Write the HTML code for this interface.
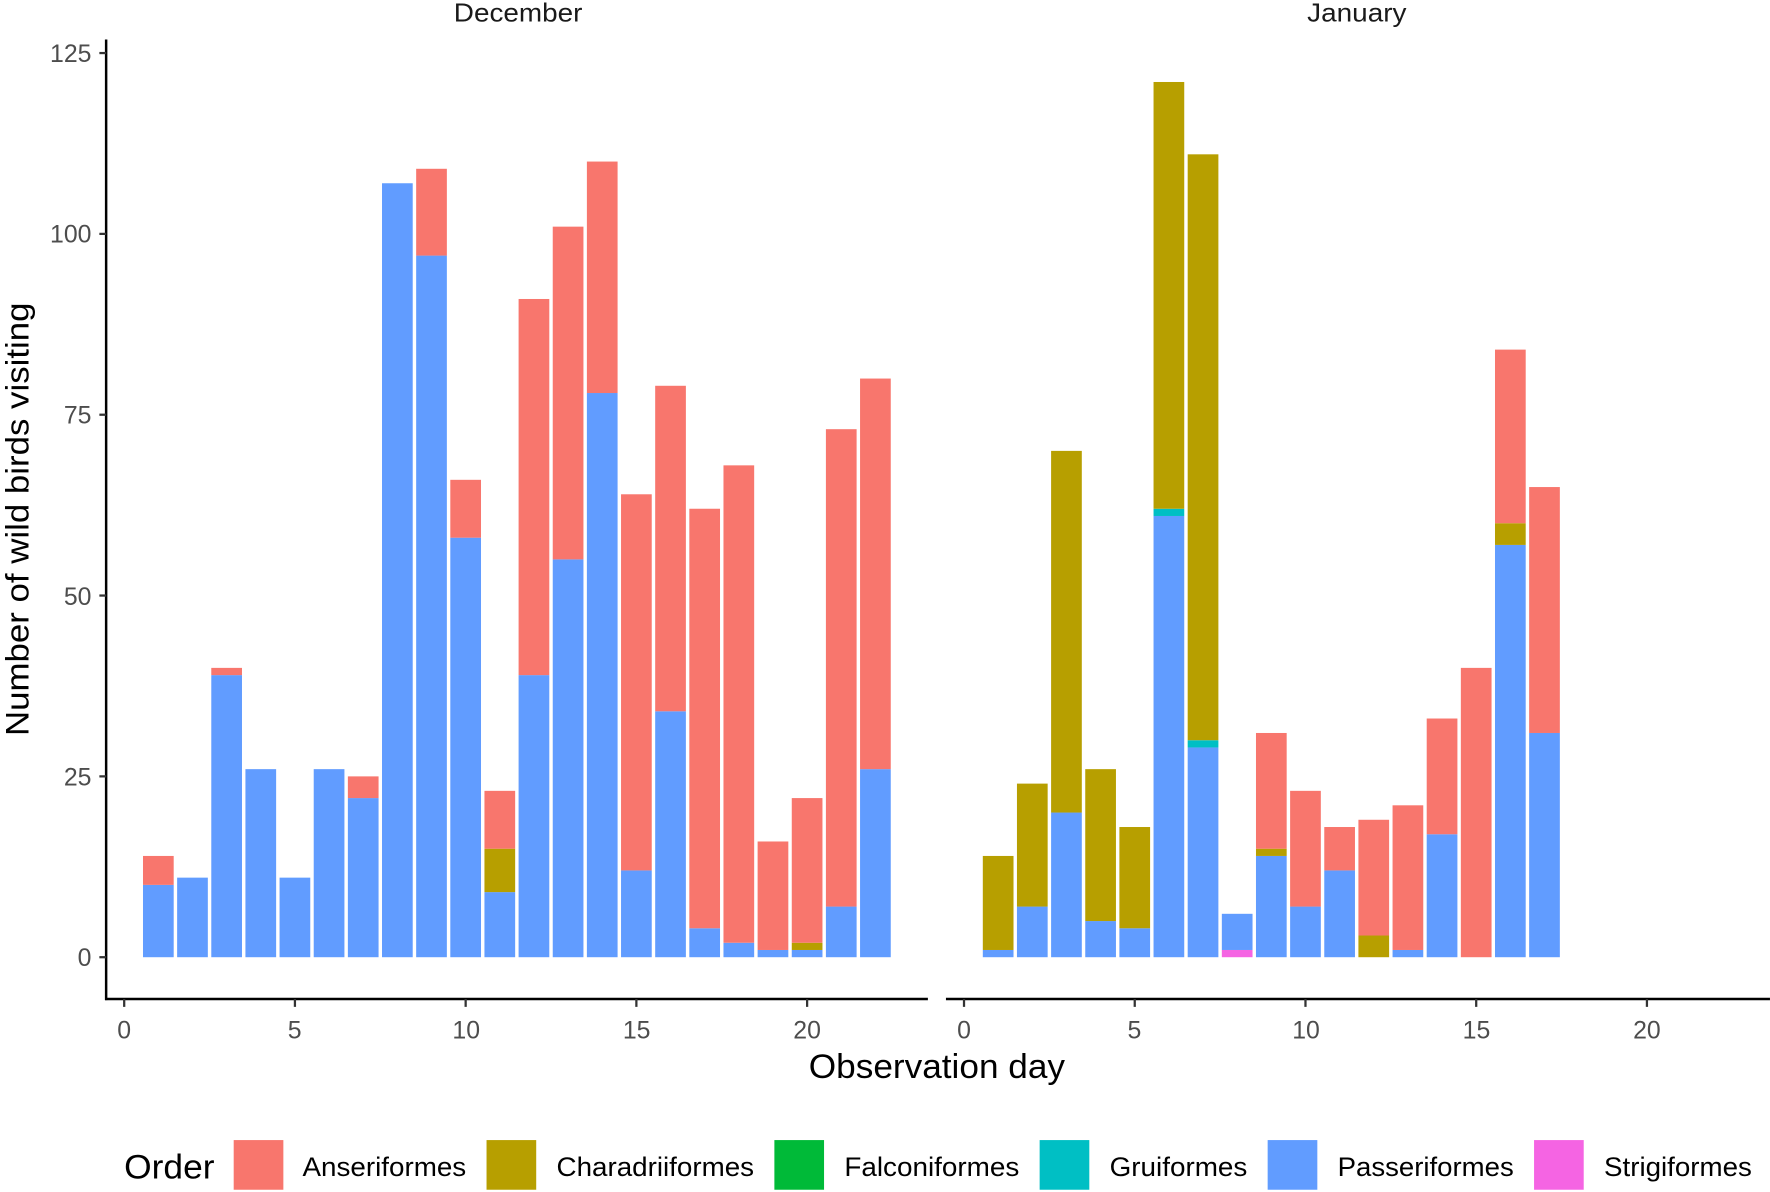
<!DOCTYPE html>
<html><head><meta charset="utf-8"><style>html,body{margin:0;padding:0;background:#fff}svg{display:block}text{font-family:"Liberation Sans",Arial,sans-serif}</style></head>
<body>
<svg id="s" width="1770" height="1192" viewBox="0 0 1568 1056" xmlns="http://www.w3.org/2000/svg">
<rect width="1568" height="1056" fill="#fff"/>
<g id="bars"></g>
<text x="459" y="19" font-size="23" text-anchor="middle" fill="#1a1a1a" textLength="114" lengthAdjust="spacingAndGlyphs">December</text>
<text x="1202" y="19" font-size="23" text-anchor="middle" fill="#1a1a1a" textLength="88" lengthAdjust="spacingAndGlyphs">January</text>
<g stroke="#000" stroke-width="2.2" fill="none">
<line x1="94" y1="35" x2="94" y2="886"/>
<line x1="93" y1="885" x2="822" y2="885"/>
<line x1="838" y1="885" x2="1568" y2="885"/>
</g>
<g id="ticks" stroke="#333" stroke-width="2"></g>
<g font-size="22" fill="#4d4d4d" text-anchor="end">
<text x="81" y="856">0</text><text x="81" y="696">25</text><text x="81" y="536">50</text><text x="81" y="375">75</text><text x="81" y="215">100</text><text x="81" y="55">125</text>
</g>
<g font-size="22" fill="#4d4d4d" text-anchor="middle">
<text x="110" y="920">0</text><text x="261" y="920">5</text><text x="413" y="920">10</text><text x="564" y="920">15</text><text x="715" y="920">20</text>
<text x="854" y="920">0</text><text x="1005" y="920">5</text><text x="1157" y="920">10</text><text x="1308" y="920">15</text><text x="1459" y="920">20</text>
</g>
<text x="830" y="955" font-size="30" text-anchor="middle" fill="#000" textLength="227" lengthAdjust="spacingAndGlyphs">Observation day</text>
<text transform="translate(25,460) rotate(-90)" font-size="29" text-anchor="middle" fill="#000" textLength="384" lengthAdjust="spacingAndGlyphs">Number of wild birds visiting</text>
<text x="110" y="1044" font-size="30" fill="#000" textLength="80" lengthAdjust="spacingAndGlyphs">Order</text>
<g font-size="24" fill="#000">
<rect x="207" y="1010" width="44" height="44" fill="#F8766D"/><text x="268" y="1042" textLength="145" lengthAdjust="spacingAndGlyphs">Anseriformes</text>
<rect x="431" y="1010" width="44" height="44" fill="#B79F00"/><text x="493" y="1042" textLength="175" lengthAdjust="spacingAndGlyphs">Charadriiformes</text>
<rect x="686" y="1010" width="44" height="44" fill="#00BA38"/><text x="748" y="1042" textLength="155" lengthAdjust="spacingAndGlyphs">Falconiformes</text>
<rect x="921" y="1010" width="44" height="44" fill="#00BFC4"/><text x="983" y="1042" textLength="122" lengthAdjust="spacingAndGlyphs">Gruiformes</text>
<rect x="1123" y="1010" width="44" height="44" fill="#619CFF"/><text x="1185" y="1042" textLength="156" lengthAdjust="spacingAndGlyphs">Passeriformes</text>
<rect x="1359" y="1010" width="44" height="44" fill="#F564E3"/><text x="1421" y="1042" textLength="131" lengthAdjust="spacingAndGlyphs">Strigiformes</text>
</g>
</svg>
<script>
var C={S:"#F564E3",P:"#619CFF",G:"#00BFC4",C:"#B79F00",A:"#F8766D"};
var dec=[[1,{P:10,A:4}],[2,{P:11}],[3,{P:39,A:1}],[4,{P:26}],[5,{P:11}],[6,{P:26}],[7,{P:22,A:3}],[8,{P:107}],[9,{P:97,A:12}],[10,{P:58,A:8}],[11,{P:9,C:6,A:8}],[12,{P:39,A:52}],[13,{P:55,A:46}],[14,{P:78,A:32}],[15,{P:12,A:52}],[16,{P:34,A:45}],[17,{P:4,A:58}],[18,{P:2,A:66}],[19,{P:1,A:15}],[20,{P:1,C:1,A:20}],[21,{P:7,A:66}],[22,{P:26,A:54}]];
var jan=[[1,{P:1,C:13}],[2,{P:7,C:17}],[3,{P:20,C:50}],[4,{P:5,C:21}],[5,{P:4,C:14}],[6,{P:61,G:1,C:59}],[7,{P:29,G:1,C:81}],[8,{S:1,P:5}],[9,{P:14,C:1,A:16}],[10,{P:7,A:16}],[11,{P:12,A:6}],[12,{C:3,A:16}],[13,{P:1,A:20}],[14,{P:17,A:16}],[15,{A:40}],[16,{P:57,C:3,A:24}],[17,{P:31,A:34}]];
var ns="http://www.w3.org/2000/svg",g=document.getElementById("bars"),t=document.getElementById("ticks");
var y0=848,k=6.408,dx=30.25;
function draw(d,x0){d.forEach(function(e){var cx=x0+e[0]*dx,cum=0;["S","P","G","C","A"].forEach(function(s){var v=e[1][s];if(!v)return;var r=document.createElementNS(ns,"rect");r.setAttribute("x",cx-13.6);r.setAttribute("width",27.2);r.setAttribute("y",y0-(cum+v)*k);r.setAttribute("height",v*k);r.setAttribute("fill",C[s]);g.appendChild(r);cum+=v;});});}
draw(dec,110);draw(jan,854);
function ln(a,b,c,d){var l=document.createElementNS(ns,"line");l.setAttribute("x1",a);l.setAttribute("y1",b);l.setAttribute("x2",c);l.setAttribute("y2",d);t.appendChild(l);}
for(var i=0;i<=125;i+=25){var y=y0-i*k;ln(88,y,94,y);}
for(var j=0;j<=20;j+=5){ln(110+j*dx,885,110+j*dx,892);ln(854+j*dx,885,854+j*dx,892);}
</script>
</body></html>
